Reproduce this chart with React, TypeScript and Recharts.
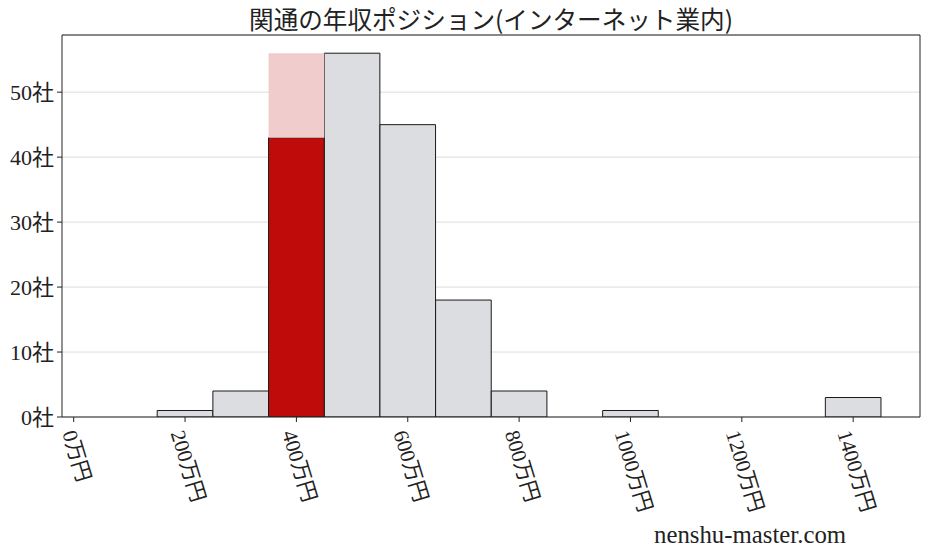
import React from "react";
import {
  ComposedChart,
  Bar,
  XAxis,
  YAxis,
  CartesianGrid,
  ReferenceLine,
} from "recharts";

// ---- data ----
const binCenters = [200, 300, 400, 500, 600, 700, 800, 900, 1000, 1100, 1200, 1300, 1400];
const counts = [1, 4, 43, 56, 45, 18, 4, 0, 1, 0, 0, 0, 3];
const highlightBin = 400;
const highlightPeak = 56;
const xTicks = [0, 200, 400, 600, 800, 1000, 1200, 1400];
const yTicks = [0, 10, 20, 30, 40, 50];
const titleText = "関通の年収ポジション(インターネット業内)";
const watermark = "nenshu-master.com";

const data = binCenters.map((b, i) => ({
  bin: b,
  gray: b === highlightBin ? 0 : counts[i],
  red: b === highlightBin ? counts[i] : 0,
  pink: b === highlightBin ? highlightPeak - counts[i] : 0,
}));

const W = 927;
const H = 557;
const X_DOMAIN: [number, number] = [-21, 1520];
const Y_DOMAIN: [number, number] = [0, 58.8];
const PLOT_LEFT = 62;
const PLOT_RIGHT = 920;
const barPx = (100 * (PLOT_RIGHT - PLOT_LEFT)) / (X_DOMAIN[1] - X_DOMAIN[0]) - 0.05;

const FONT = "'Liberation Serif', 'Noto Sans CJK JP', serif";
const TEXT_COLOR = "#222222";
const FS = 22;
const ANG = 73;

const XTick = (props: any) => {
  const { x, y, payload } = props;
  const label = `${payload.value}万円`;
  const digits = String(payload.value).length;
  const L = (digits * 0.5 + 2) * 21;
  const rad = (ANG * Math.PI) / 180;
  const bh = L * Math.sin(rad) + 20 * Math.cos(rad);
  const cx = x + 3;
  const cy = y + 4 + bh / 2;
  return (
    <text
      x={cx}
      y={cy}
      transform={`rotate(${ANG} ${cx} ${cy})`}
      textAnchor="middle"
      dominantBaseline="central"
      fontFamily={FONT}
      fontSize={21}
      fill={TEXT_COLOR}
    >
      {label}
    </text>
  );
};

export default function App() {
  return (
    <div style={{ position: "absolute", left: 0, top: 0, width: W, height: H, background: "#fff" }}>
      <svg
        width={W}
        height={40}
        style={{ position: "absolute", left: 0, top: 0, zIndex: 2 }}
      >
        <text
          x={(PLOT_LEFT + PLOT_RIGHT) / 2}
          y={29}
          textAnchor="middle"
          fontFamily="'Noto Sans CJK JP', sans-serif"
          fontSize={24.6}
          fill={TEXT_COLOR}
        >
          {titleText}
        </text>
      </svg>
      <ComposedChart
        width={W}
        height={H}
        data={data}
        margin={{ top: 35, right: W - PLOT_RIGHT, left: 0, bottom: 0 }}
        barSize={barPx}
        barCategoryGap={0}
        barGap={0}
      >
        <CartesianGrid vertical={false} stroke="#dddddd" strokeWidth={1} />
        <XAxis
          dataKey="bin"
          type="number"
          domain={X_DOMAIN}
          allowDataOverflow
          ticks={xTicks}
          interval={0}
          height={H - 35 - 382}
          tickSize={5}
          tickMargin={2}
          tickLine={{ stroke: "#222" }}
          axisLine={{ stroke: "#222" }}
          tick={<XTick />}
        />
        <YAxis
          type="number"
          domain={Y_DOMAIN}
          allowDataOverflow
          ticks={yTicks}
          interval={0}
          width={PLOT_LEFT}
          tickSize={5}
          tickMargin={3}
          tickLine={{ stroke: "#222" }}
          axisLine={{ stroke: "#222" }}
          tickFormatter={(v: number) => `${v}社`}
          tick={{ fontFamily: FONT, fontSize: FS, fill: TEXT_COLOR }}
        />
        <Bar dataKey="gray" stackId="a" fill="#dcdde0" stroke="#1a1a1a" strokeWidth={1} isAnimationActive={false} />
        <Bar dataKey="red" stackId="a" fill="#c00b0b" stroke="#1a1a1a" strokeWidth={1} isAnimationActive={false} />
        <Bar dataKey="pink" stackId="a" fill="#f0cccc" stroke="none" isAnimationActive={false} />
        <ReferenceLine y={Y_DOMAIN[1]} stroke="#222" strokeWidth={1} ifOverflow="visible" />
        <ReferenceLine x={X_DOMAIN[1]} stroke="#222" strokeWidth={1} ifOverflow="visible" />
      </ComposedChart>
      <svg
        width={W}
        height={40}
        style={{ position: "absolute", left: 0, top: H - 40, zIndex: 2 }}
      >
        <text
          x={654}
          y={543 - (H - 40)}
          fontFamily="'Liberation Serif', serif"
          fontSize={24.8}
          fill={TEXT_COLOR}
        >
          {watermark}
        </text>
      </svg>
    </div>
  );
}
